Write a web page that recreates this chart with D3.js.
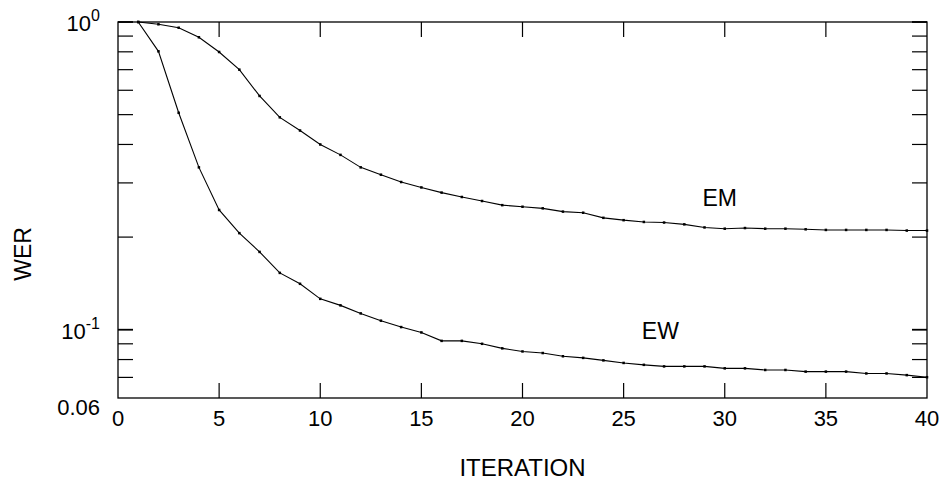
<!DOCTYPE html>
<html>
<head>
<meta charset="utf-8">
<script src="https://cdn.jsdelivr.net/npm/d3@7"></script>
<style>
  html, body { margin: 0; padding: 0; background: #fff; }
  svg { display: block; }
  text { font-family: "Liberation Sans", Arial, sans-serif; fill: #000; }
</style>
</head>
<body>
<svg id="chart" width="944" height="492"></svg>
<script>
// Word error rate per training iteration for the two estimation methods
const iterations = d3.range(1, 41);
const werEM = [1.0, 0.983, 0.958, 0.892, 0.799, 0.700, 0.575, 0.490, 0.444, 0.400,
               0.370, 0.337, 0.319, 0.302, 0.290, 0.279, 0.270, 0.262, 0.254, 0.251,
               0.248, 0.242, 0.240, 0.231, 0.227, 0.224, 0.223, 0.220, 0.215, 0.213,
               0.214, 0.213, 0.213, 0.212, 0.211, 0.211, 0.211, 0.211, 0.210, 0.210];
const werEW = [1.0, 0.803, 0.507, 0.337, 0.245, 0.206, 0.179, 0.153, 0.141, 0.126,
               0.120, 0.113, 0.107, 0.102, 0.098, 0.092, 0.092, 0.090, 0.087, 0.085,
               0.084, 0.082, 0.081, 0.0795, 0.078, 0.0769, 0.0760, 0.0760, 0.0760, 0.0749,
               0.0749, 0.0740, 0.0740, 0.0731, 0.0731, 0.0731, 0.0721, 0.0721, 0.0712, 0.0701];
const seriesNames = ["EM", "EW"];
const seriesLabelAt = [{ x: 28.9, y: 0.252 }, { x: 25.9, y: 0.093 }];

const xTicks = [0, 5, 10, 15, 20, 25, 30, 35, 40];
const yMajorTicks = [1, 0.1];
const yMinorTicks = [0.9, 0.8, 0.7, 0.6, 0.5, 0.4, 0.3, 0.2, 0.09, 0.08, 0.07];
const yTickLabels = [
  { v: 1, base: "10", exp: "0" },
  { v: 0.1, base: "10", exp: "-1" },
  { v: 0.06, base: "0.06", exp: "" }
];

const svg = d3.select("#chart");
const m = { left: 118, right: 927, top: 22, bottom: 398 };

const x = d3.scaleLinear().domain([0, 40]).range([m.left, m.right]);
const y = d3.scaleLog().domain([0.06, 1]).range([m.bottom, m.top]);

const tickLen = 15;
const g = svg.append("g");

// Inward ticks on all four sides
const ticks = g.append("g").attr("stroke", "#000").attr("stroke-width", 1.2);
xTicks.slice(1, -1).forEach(t => {
  ticks.append("line").attr("x1", x(t)).attr("x2", x(t)).attr("y1", m.bottom).attr("y2", m.bottom - tickLen);
  ticks.append("line").attr("x1", x(t)).attr("x2", x(t)).attr("y1", m.top).attr("y2", m.top + tickLen);
});
yMajorTicks.concat(yMinorTicks).forEach(t => {
  const w = yMajorTicks.includes(t) ? 1.8 : 1.2;
  ticks.append("line").attr("x1", m.left).attr("x2", m.left + tickLen).attr("y1", y(t)).attr("y2", y(t)).attr("stroke-width", w);
  ticks.append("line").attr("x1", m.right).attr("x2", m.right - tickLen).attr("y1", y(t)).attr("y2", y(t)).attr("stroke-width", w);
});

// Frame
g.append("rect")
  .attr("x", m.left).attr("y", m.top)
  .attr("width", m.right - m.left).attr("height", m.bottom - m.top)
  .attr("fill", "none").attr("stroke", "#000").attr("stroke-width", 1.3);

// X tick labels
g.append("g").selectAll("text").data(xTicks).join("text")
  .attr("x", d => x(d)).attr("y", 426)
  .attr("text-anchor", "middle").attr("font-size", 22)
  .text(d => d);

// Y tick labels (powers of ten with superscripts)
yTickLabels.forEach(d => {
  const t = g.append("text")
    .attr("x", 100)
    .attr("y", d.v === 0.06 ? 415 : y(d.v) + 9)
    .attr("text-anchor", "end").attr("font-size", 22);
  t.append("tspan").text(d.base);
  if (d.exp) {
    t.append("tspan").attr("dy", -10).attr("font-size", 16).text(d.exp);
  }
});

// Axis titles
g.append("text")
  .attr("x", (m.left + m.right) / 2).attr("y", 476)
  .attr("text-anchor", "middle").attr("font-size", 24)
  .text("ITERATION");
g.append("text")
  .attr("transform", `translate(31,254) rotate(-90)`)
  .attr("text-anchor", "middle").attr("font-size", 23)
  .text("WER");

// Series lines with point markers
const series = [werEM, werEW];
const line = d3.line().x((d, i) => x(iterations[i])).y(d => y(d));
series.forEach((vals, si) => {
  g.append("path").datum(vals)
    .attr("d", line)
    .attr("fill", "none").attr("stroke", "#000").attr("stroke-width", 1.1);
  g.append("g").selectAll("rect").data(vals).join("rect")
    .attr("x", (d, i) => x(iterations[i]) - 1.25)
    .attr("y", d => y(d) - 1.25)
    .attr("width", 2.5).attr("height", 2.5)
    .attr("fill", "#000");
  g.append("text")
    .attr("x", x(seriesLabelAt[si].x)).attr("y", y(seriesLabelAt[si].y))
    .attr("font-size", 23)
    .text(seriesNames[si]);
});
</script>
</body>
</html>
